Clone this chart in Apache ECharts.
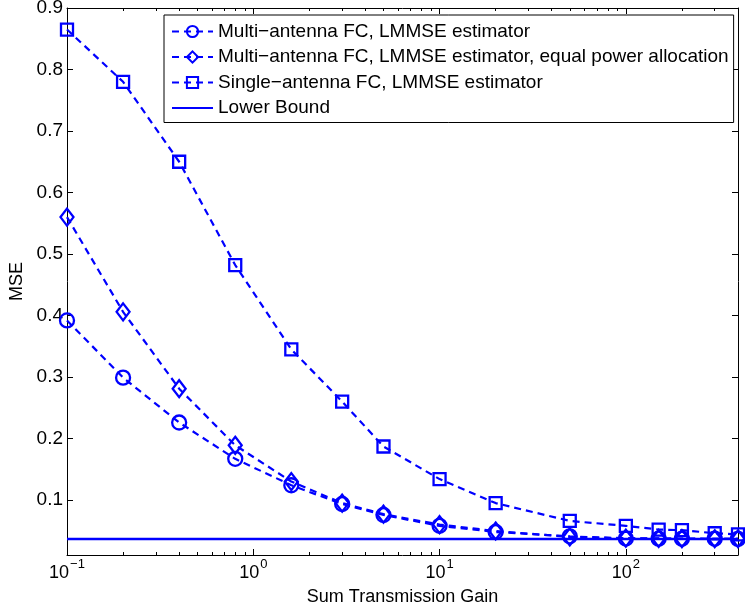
<!DOCTYPE html>
<html><head><meta charset="utf-8">
<script src="https://cdn.jsdelivr.net/npm/echarts@6/dist/echarts.min.js"></script>
<style>html,body{margin:0;padding:0;background:#fff}#c{width:745px;height:613px}</style>
</head><body><div id="c"></div>
<script>
// ---- data ----
const xValues = [0.1, 0.2, 0.4, 0.8, 1.6, 3, 5, 10, 20, 50, 100, 150, 200, 300, 400];
const multiLMMSE  = [0.392, 0.299, 0.226, 0.167, 0.124, 0.0935, 0.0756, 0.058, 0.048, 0.041, 0.0373, 0.0372, 0.037, 0.037, 0.0368];
const multiEqual  = [0.560, 0.406, 0.281, 0.189, 0.130, 0.095, 0.077, 0.060, 0.0496, 0.040, 0.038, 0.0375, 0.0372, 0.037, 0.037];
const singleLMMSE = [0.865, 0.780, 0.650, 0.482, 0.345, 0.260, 0.187, 0.134, 0.095, 0.066, 0.058, 0.052, 0.051, 0.046, 0.044];
const lowerBoundX = [0.1, 400];
const lowerBoundY = [0.0366, 0.0366];
const seriesNames = [
  'Multi\u2212antenna FC, LMMSE estimator',
  'Multi\u2212antenna FC, LMMSE estimator, equal power allocation',
  'Single\u2212antenna FC, LMMSE estimator',
  'Lower Bound'
];
const yTicks = [0.1, 0.2, 0.3, 0.4, 0.5, 0.6, 0.7, 0.8, 0.9];
const xMajorTicks = [0.1, 1, 10, 100];
const xMinorTicks = [0.2,0.3,0.4,0.5,0.6,0.7,0.8,0.9,2,3,4,5,6,7,8,9,20,30,40,50,60,70,80,90,200,300];
const xAxisName = 'Sum Transmission Gain';
const yAxisName = 'MSE';
const yMin = 0.0106, yMax = 0.9, xMin = 0.1, xMax = 400;

// ---- chart ----
const FONT = "'Liberation Sans', Arial, Helvetica, sans-serif";
const BLUE = '#0000ff';
const pairs = (xs, ys) => xs.map((x, i) => [x, ys[i]]);
const chart = echarts.init(document.getElementById('c'), null, {renderer: 'canvas'});

function xAxisBase(pos) {
  return {
    type: 'log', logBase: 10, min: xMin, max: xMax, position: pos, gridIndex: 0,
    splitLine: {show: false}, minorTick: {show: false},
    axisLine: {show: true, onZero: false, lineStyle: {color: '#000', width: 1}},
    axisLabel: {show: false}
  };
}
const xAxes = [];
const xa0 = xAxisBase('bottom');
xa0.axisTick = {show: true, inside: true, length: 6, customValues: xMajorTicks, lineStyle: {color: '#000'}};
xa0.axisLabel = {
  show: true, customValues: xMajorTicks, margin: 9, color: '#000',
  formatter: v => '{b|10}{s|' + String(Math.round(Math.log10(v))).replace('-', '\u2212') + '}',
  rich: {
    b: {fontSize: 18, lineHeight: 18, fontFamily: FONT, color: '#000', verticalAlign: 'bottom'},
    s: {fontSize: 13, lineHeight: 13, fontFamily: FONT, color: '#000', verticalAlign: 'bottom', padding: [0, 0, 11, 1]}
  }
};
xa0.name = xAxisName; xa0.nameLocation = 'middle'; xa0.nameGap = 33;
xa0.nameTextStyle = {fontSize: 18, fontFamily: FONT, color: '#000'};
xAxes.push(xa0);
const xa1 = xAxisBase('bottom');
xa1.axisLine = {show: false, onZero: false};
xa1.axisTick = {show: true, inside: true, length: 3, customValues: xMinorTicks, lineStyle: {color: '#000'}};
xAxes.push(xa1);
const xa2 = xAxisBase('top');
xa2.axisTick = {show: true, inside: true, length: 6, customValues: xMajorTicks, lineStyle: {color: '#000'}};
xAxes.push(xa2);
const xa3 = xAxisBase('top');
xa3.axisLine = {show: false, onZero: false};
xa3.axisTick = {show: true, inside: true, length: 3, customValues: xMinorTicks, lineStyle: {color: '#000'}};
xAxes.push(xa3);

const yAxes = [
  {
    type: 'value', min: yMin, max: yMax, position: 'left', gridIndex: 0,
    splitLine: {show: false},
    axisLine: {show: true, onZero: false, lineStyle: {color: '#000', width: 1}},
    axisTick: {show: true, inside: true, length: 6, customValues: yTicks, lineStyle: {color: '#000'}},
    axisLabel: {show: true, customValues: yTicks, margin: 4, fontSize: 19, fontFamily: FONT, color: '#000',
                formatter: v => v.toFixed(1)},
    name: yAxisName, nameLocation: 'middle', nameGap: 39,
    nameTextStyle: {fontSize: 18, fontFamily: FONT, color: '#000'}
  },
  {
    type: 'value', min: yMin, max: yMax, position: 'right', gridIndex: 0,
    splitLine: {show: false},
    axisLine: {show: true, onZero: false, lineStyle: {color: '#000', width: 1}},
    axisTick: {show: true, inside: true, length: 6, customValues: yTicks, lineStyle: {color: '#000'}},
    axisLabel: {show: false}
  }
];

const dashed = {color: BLUE, width: 2.2, type: [7, 5]};
const markerStyle = {color: 'rgba(0,0,0,0)', borderColor: BLUE, borderWidth: 2.3};

const option = {
  animation: false,
  backgroundColor: '#fff',
  grid: {left: 67, right: 7, top: 8, bottom: 58, containLabel: false, outerBoundsMode: 'none'},
  xAxis: xAxes,
  yAxis: yAxes,
  legend: {
    orient: 'vertical', left: 164, top: 15,
    backgroundColor: '#fff', borderColor: '#000', borderWidth: 1, borderRadius: 0,
    padding: [7, 5, 5, 7],
    itemWidth: 41, itemHeight: 14, itemGap: 6.5,
    textStyle: {fontSize: 19, lineHeight: 19, color: '#000', fontFamily: FONT},
    data: [
      {name: seriesNames[0]},
      {name: seriesNames[1]},
      {name: seriesNames[2]},
      {name: seriesNames[3], itemStyle: {opacity: 0}}
    ]
  },
  series: [
    {name: seriesNames[0], type: 'line', xAxisIndex: 0, yAxisIndex: 0, color: BLUE,
     data: pairs(xValues, multiLMMSE), symbol: 'circle', symbolSize: 14,
     lineStyle: dashed, itemStyle: markerStyle, z: 3},
    {name: seriesNames[1], type: 'line', xAxisIndex: 0, yAxisIndex: 0, color: BLUE,
     data: pairs(xValues, multiEqual), symbol: 'diamond', symbolSize: [13, 17],
     lineStyle: dashed, itemStyle: markerStyle, z: 3},
    {name: seriesNames[2], type: 'line', xAxisIndex: 0, yAxisIndex: 0, color: BLUE,
     data: pairs(xValues, singleLMMSE), symbol: 'rect', symbolSize: 12,
     lineStyle: dashed, itemStyle: markerStyle, z: 3},
    {name: seriesNames[3], type: 'line', xAxisIndex: 0, yAxisIndex: 0, color: BLUE,
     data: pairs(lowerBoundX, lowerBoundY), symbol: 'none',
     lineStyle: {color: BLUE, width: 2.5, type: 'solid'}, z: 2}
  ]
};
chart.setOption(option);
</script>
</body></html>
